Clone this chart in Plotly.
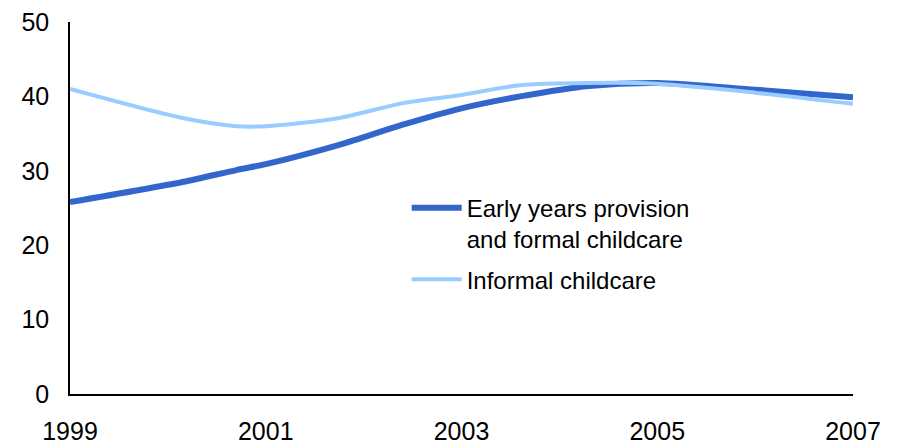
import plotly.graph_objects as go

# reading positions along the x axis (years)
years = [1999, 2000.15, 2000.7, 2001.0, 2001.75, 2002.4, 2003.0, 2003.6, 2004.3, 2005.0, 2006.0, 2007]

# Early years provision and formal childcare
formal = [25.8, 28.5, 30.1, 30.9, 33.5, 36.2, 38.4, 40.0, 41.4, 41.8, 40.9, 39.9]
# Informal childcare
informal = [41.0, 37.1, 36.0, 36.0, 37.1, 39.1, 40.2, 41.5, 41.8, 41.7, 40.5, 39.0]

x_ticks = [1999, 2001, 2003, 2005, 2007]
y_ticks = [0, 10, 20, 30, 40, 50]

FONT = "Liberation Sans, Arial, sans-serif"

fig = go.Figure()

fig.add_trace(go.Scatter(
    x=years, y=formal,
    mode="lines",
    name="Early years provision<br>and formal childcare",
    legendgroup="formal",
    line=dict(color="#3366CC", width=6, shape="spline", smoothing=0.8),
))
fig.add_trace(go.Scatter(
    x=years, y=informal,
    mode="lines",
    name="Informal childcare",
    legendgroup="informal",
    line=dict(color="#99CCFF", width=4, shape="spline", smoothing=0.8),
))

# the page body adds an 8px offset, so margins are shifted to compensate
fig.update_layout(
    width=899, height=445,
    margin=dict(l=62, r=54, t=14, b=59),
    paper_bgcolor="white",
    plot_bgcolor="white",
    font=dict(family=FONT, size=24, color="black"),
    legend=dict(
        x=0.43, y=0.56,
        xanchor="left", yanchor="top",
        bgcolor="rgba(0,0,0,0)",
        font=dict(family=FONT, size=24, color="black"),
        valign="top",
        itemwidth=50,
        traceorder="grouped",
        tracegroupgap=6,
    ),
    showlegend=True,
)

fig.update_xaxes(
    range=[1999, 2007],
    tickvals=x_ticks,
    ticktext=[str(v) for v in x_ticks],
    showgrid=False,
    zeroline=False,
    showline=True,
    linecolor="black",
    linewidth=1.5,
    ticks="",
    ticklabelstandoff=14,
    ticklabeloverflow="allow",
    automargin=False,
    tickfont=dict(family=FONT, size=25, color="black"),
)
fig.update_yaxes(
    range=[0, 50],
    tickvals=y_ticks,
    showgrid=False,
    zeroline=False,
    showline=True,
    linecolor="black",
    linewidth=1.5,
    ticks="",
    ticklabelstandoff=14,
    ticklabeloverflow="allow",
    automargin=False,
    tickfont=dict(family=FONT, size=25, color="black"),
)

fig.write_html("out.html")
